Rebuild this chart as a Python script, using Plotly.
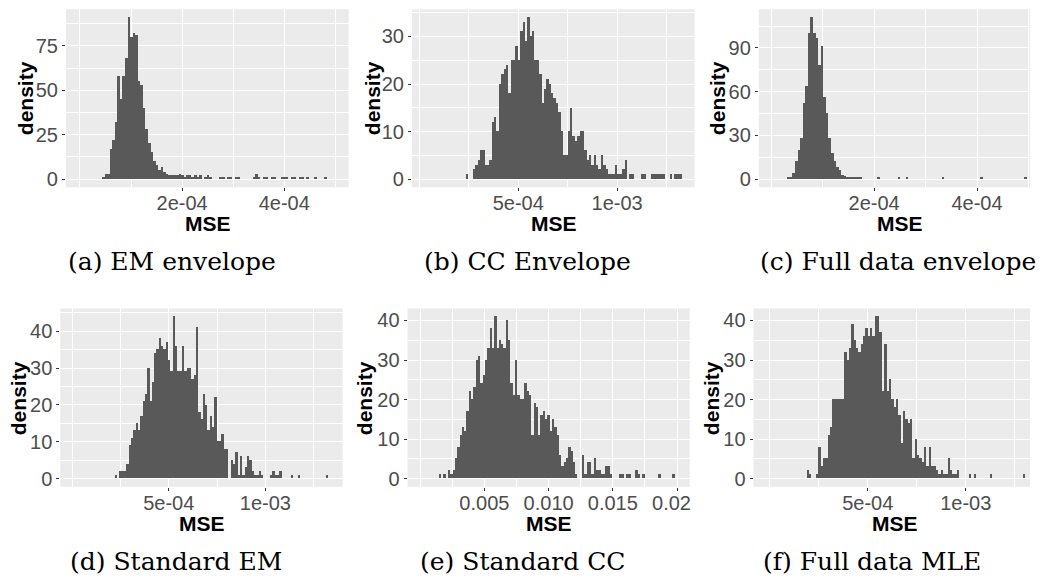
import plotly.graph_objects as go

# ---------------- data ----------------
# (a) EM envelope
em_env_start = 4.3e-5
em_env_binwidth = 5e-6
em_env_density = [1, 3, 3, 17, 22, 32, 58, 45, 58, 68, 91, 80, 82, 81, 55, 53, 40, 28, 20, 15,
                  10, 8, 5, 7, 4, 3, 2, 2, 2, 2, 3, 2, 1, 2, 2, 1, 2, 1, 2, 0,
                  1, 2, 1, 0, 0, 0, 1, 1, 0, 1, 1, 0, 1, 1, 0, 0, 0, 0, 0, 1,
                  3, 1, 0, 1, 1, 0, 1, 1, 0, 0, 1, 1, 1, 0, 1, 1, 0, 1, 1, 0,
                  1, 0, 0, 1, 0, 0, 0, 1]

# (b) CC Envelope
cc_env_start = 2.333e-4
cc_env_binwidth = 1.2e-5
cc_env_density = [1, 0, 0, 2, 3, 4, 6, 6, 3, 3, 4, 12, 13, 10,
                  20, 22, 23, 24, 18, 25, 25, 28, 25, 31, 33, 29, 34, 30, 31, 25,
                  25, 22, 16, 19, 21, 20, 18, 17, 16, 14, 10, 5, 5,
                  10, 15, 9, 8, 9, 10, 10, 6, 4, 5, 3, 5, 3, 2, 5, 3, 2, 1, 1, 1,
                  3, 1, 1, 2, 4,
                  0, 1, 1, 0, 0, 0, 1, 1, 0, 0, 1, 1, 1, 1, 1, 1, 0, 0, 1, 0, 1, 1, 1]

# (c) Full data envelope
full_env_start = 3.1e-5
full_env_binwidth = 5e-6
full_env_density = [1, 1, 4, 12, 20, 28, 52, 64, 100, 111, 100, 97, 78, 91, 56, 45, 28, 18, 12, 8,
                    6, 3, 2, 1, 1, 1, 1, 1, 1, 0, 0, 0, 0, 0, 0, 1, 0, 0, 0, 0,
                    0, 0, 0, 1, 0, 0, 1, 0, 0, 0, 0, 0, 0, 0, 0, 0, 0, 0, 0, 0,
                    1, 0, 0, 0, 0, 0, 0, 0, 0, 0, 0, 0, 0, 0, 0, 1, 0, 0, 0, 0,
                    0, 0, 0, 0, 0, 0, 0, 0, 0, 0, 0, 0, 1]

# (d) Standard EM
std_em_start = 2.22e-4
std_em_binwidth = 1.2e-5
std_em_density = [1, 0, 2, 2, 2, 4, 9, 11, 13, 15, 13, 17, 21, 23, 30, 21, 26, 34, 35, 38,
                  36, 35, 37, 32, 29, 44, 36, 29, 29, 36, 29, 30, 30, 27, 28, 41, 18, 16, 23, 20,
                  13, 17, 14, 22, 10, 10, 12, 8, 8, 0, 5, 4, 7, 1, 6, 1, 3, 6, 5, 2,
                  1, 1, 2, 1, 0, 0, 0, 1, 2, 1, 1, 2, 0, 0, 0, 0, 1, 0, 0, 1,
                  0, 0, 0, 0, 0, 0, 0, 0, 0, 0, 0, 1]

# (e) Standard CC
std_cc_start = 0.00141
std_cc_binwidth = 1.8e-4
std_cc_density = [1, 0, 1, 0, 2, 1, 2, 5, 8, 11, 13, 12, 17, 22, 20, 23, 30, 31, 24, 26,
                  30, 33, 38, 33, 41, 33, 35, 34, 33, 40, 35, 24, 21, 30, 21, 20, 20, 24, 22, 21,
                  11, 19, 18, 11, 16, 17, 15, 16, 12, 15, 13, 11, 6, 3, 4, 5, 8, 7, 4, 1,
                  0, 0, 6, 1, 4, 4, 1, 5, 2, 2, 1, 1, 3, 3, 1, 0, 0, 0, 1, 1,
                  0, 1, 1, 0, 0, 2, 1, 0, 1, 0, 0, 0, 0, 0, 0, 1, 0, 0, 0, 0, 0, 1]

# (f) Full data MLE
full_mle_start = 1.852e-4
full_mle_binwidth = 1.2e-5
full_mle_density = [2, 1, 0, 0, 1, 8, 3, 5, 5, 11, 13, 20, 20, 20, 20, 20, 32, 30, 33, 39,
                    35, 33, 32, 34, 36, 38, 36, 38, 36, 41, 41, 37, 22, 34, 22, 25, 20, 18, 20, 16,
                    9, 17, 15, 14, 15, 5, 10, 6, 5, 4, 8, 3, 8, 3, 3, 2, 1, 2, 1, 1,
                    5, 2, 1, 1, 2, 0, 0, 0, 0, 1, 0, 1, 0, 0, 0, 0, 0, 0, 1, 0,
                    0, 0, 0, 0, 0, 0, 0, 0, 0, 0, 0, 0, 1]

captions = ["(a) EM envelope", "(b) CC Envelope", "(c) Full data envelope",
            "(d) Standard EM", "(e) Standard CC", "(f) Full data MLE"]

x_tickvals = [[2e-4, 4e-4], [5e-4, 1e-3], [2e-4, 4e-4],
              [5e-4, 1e-3], [0.005, 0.010, 0.015, 0.020], [5e-4, 1e-3]]
x_ticktext = [["2e-04", "4e-04"], ["5e-04", "1e-03"], ["2e-04", "4e-04"],
              ["5e-04", "1e-03"], ["0.005", "0.010", "0.015", "0.02\u00a0\u00a0"], ["5e-04", "1e-03"]]
x_minor = [[0, 1e-4, 3e-4, 5e-4], [0, 2.5e-4, 7.5e-4, 1.25e-3], [0, 1e-4, 3e-4, 5e-4],
           [0, 2.5e-4, 7.5e-4, 1.25e-3], [0, 0.0025, 0.0075, 0.0125, 0.0175], [0, 2.5e-4, 7.5e-4, 1.25e-3]]
y_tickvals = [[0, 25, 50, 75], [0, 10, 20, 30], [0, 30, 60, 90],
              [0, 10, 20, 30, 40], [0, 10, 20, 30, 40], [0, 10, 20, 30, 40]]

series = [
    (em_env_start, em_env_binwidth, em_env_density),
    (cc_env_start, cc_env_binwidth, cc_env_density),
    (full_env_start, full_env_binwidth, full_env_density),
    (std_em_start, std_em_binwidth, std_em_density),
    (std_cc_start, std_cc_binwidth, std_cc_density),
    (full_mle_start, full_mle_binwidth, full_mle_density),
]

# ---------------- layout / style ----------------
W, H = 1042, 579
# plot boxes in pixels: left, right, top, bottom
boxes = [(66.7, 352.7, 9.3, 188.3), (416.7, 702.7, 9.3, 188.3), (767.7, 1042, 9.3, 188.3),
         (61, 346.7, 310, 489.3), (412.3, 697.7, 310, 489.3), (762.3, 1042, 310, 489.3)]
x_ranges = [[-2.75e-5, 5.26e-4], [-3.8e-5, 1.392e-3], [-2.4e-5, 5.03e-4],
            [-6.1e-5, 1.40e-3], [-0.00098, 0.02098], [-8.3e-5, 1.328e-3]]
caption_pos = [(174, 263), (534, 263), (908, 263), (178, 564), (529.5, 564), (882, 564)]
ylab_pos = [(26, 99), (377, 99), (726, 99), (19.5, 400), (369.5, 400), (720.5, 400)]
xlab_pos = [(210, 225), (560, 225), (910.5, 225), (204, 526.5), (555, 526.5), (905.5, 526.5)]

BAR = "#595959"
PANEL = "#EBEBEB"
TICK = "#4D4D4D"
SANS = "Liberation Sans, Arial, sans-serif"
SERIF = "DejaVu Serif, serif"

fig = go.Figure()
layout = dict(width=W, height=H, margin=dict(l=0, r=0, t=0, b=0),
              paper_bgcolor="white", plot_bgcolor=PANEL, showlegend=False,
              bargap=0, annotations=[])

for k, ((start, bw, dens), box) in enumerate(zip(series, boxes)):
    n = k + 1
    sx = "" if n == 1 else str(n)
    xs, ys = [], []
    for i, d in enumerate(dens):
        if d > 0:
            xs.append(start + (i + 0.5) * bw)
            ys.append(d)
    fig.add_trace(go.Bar(x=xs, y=ys, width=bw, marker=dict(color=BAR, line=dict(width=0)),
                         xaxis="x" + sx, yaxis="y" + sx, hoverinfo="skip"))
    l, r, t, b = box
    ymax = max(dens)
    yt = y_tickvals[k]
    step = yt[1] - yt[0]
    yminor = [v + step / 2 for v in [yt[0] - step] + yt]
    layout["xaxis" + sx] = dict(
        domain=[l / W, min(r / W, 1.0)], range=x_ranges[k], anchor="y" + sx,
        tickmode="array", tickvals=x_tickvals[k], ticktext=x_ticktext[k],
        ticks="outside", ticklen=3, tickwidth=1, tickcolor="#333333",
        ticklabelstandoff=-5,
        tickfont=dict(family=SANS, size=20, color=TICK),
        showgrid=True, gridcolor="white", gridwidth=1.1, zeroline=False, showline=False,
        minor=dict(tickmode="array", tickvals=x_minor[k], showgrid=True,
                   gridcolor="white", gridwidth=0.5, ticks=""),
        fixedrange=True)
    layout["yaxis" + sx] = dict(
        domain=[1 - b / H, 1 - t / H], range=[-0.05 * ymax, 1.05 * ymax], anchor="x" + sx,
        tickmode="array", tickvals=yt, ticktext=[str(v) for v in yt],
        ticks="outside", ticklen=3, tickwidth=1, tickcolor="#333333",
        tickfont=dict(family=SANS, size=20, color=TICK),
        showgrid=True, gridcolor="white", gridwidth=1.1, zeroline=False, showline=False,
        minor=dict(tickmode="array", tickvals=yminor, showgrid=True,
                   gridcolor="white", gridwidth=0.5, ticks=""),
        fixedrange=True)

    cx, cy = caption_pos[k]
    layout["annotations"].append(dict(text=captions[k], x=cx / W, y=1 - cy / H, xref="paper", yref="paper",
                                      xanchor="center", yanchor="middle", showarrow=False,
                                      font=dict(family=SERIF, size=25, color="black")))
    lx, ly = ylab_pos[k]
    layout["annotations"].append(dict(text="<b>density</b>", x=lx / W, y=1 - ly / H, xref="paper", yref="paper",
                                      xanchor="center", yanchor="middle", showarrow=False, textangle=-90,
                                      font=dict(family=SANS, size=21, color="black")))
    mx, my = xlab_pos[k]
    layout["annotations"].append(dict(text="<b>MSE</b>", x=mx / W, y=1 - my / H, xref="paper", yref="paper",
                                      xanchor="center", yanchor="middle", showarrow=False,
                                      font=dict(family=SANS, size=21, color="black")))

fig.update_layout(**layout)
fig.write_html("out.html")
